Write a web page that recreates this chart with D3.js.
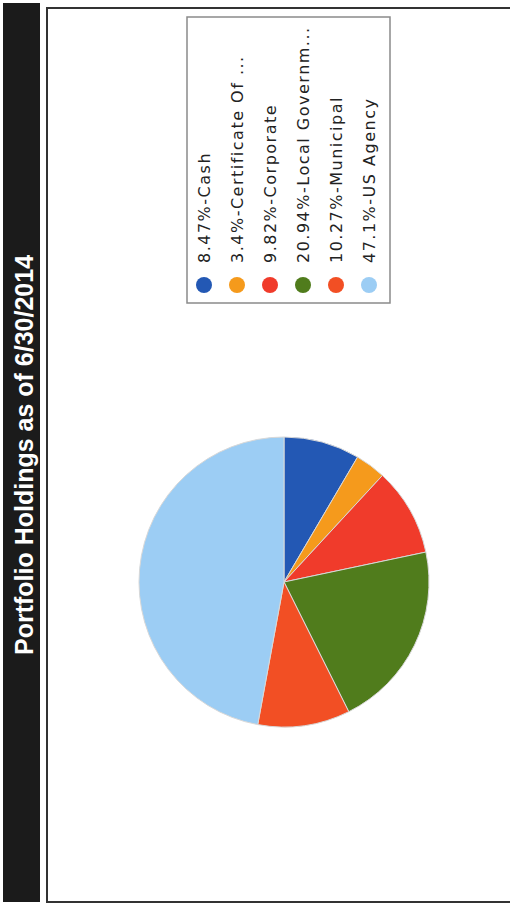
<!DOCTYPE html>
<html>
<head>
<meta charset="utf-8">
<script src="https://cdn.jsdelivr.net/npm/d3@7"></script>
<style>
  body { margin: 0; background: #fff; }
</style>
</head>
<body>
<script>
var width = 510,
    height = 909;

var categories = ['Cash', 'Certificate Of ...', 'Corporate', 'Local Governm...', 'Municipal', 'US Agency'];
var percents = [8.47, 3.4, 9.82, 20.94, 10.27, 47.1];
var colors = ['#2358b4', '#f59a1c', '#f03b2b', '#507c1c', '#f24f24', '#9ccdf4'];
var title = 'Portfolio Holdings as of 6/30/2014';

var svg = d3.select('body')
    .append('svg')
    .attr('width', width)
    .attr('height', height);

// black title bar on the left
svg.append('rect')
    .attr('x', 3).attr('y', 3)
    .attr('width', 37).attr('height', 899)
    .attr('fill', '#1b1b1b');

svg.append('text')
    .attr('transform', 'translate(33,455) rotate(-90)')
    .attr('text-anchor', 'middle')
    .attr('font-family', 'Liberation Sans, Arial, sans-serif')
    .attr('font-weight', 'bold')
    .attr('font-size', 25)
    .attr('fill', '#fff')
    .text(title);

// outer frame
svg.append('rect')
    .attr('x', 47).attr('y', 8)
    .attr('width', 470).attr('height', 894)
    .attr('fill', 'none')
    .attr('stroke', '#333')
    .attr('stroke-width', 2);

// pie, drawn already turned so the first slice starts at the top
var cx = 284, cy = 582, r = 145;

var pie = d3.pie().sort(null).value(function(d) { return d; });
var arc = d3.arc().innerRadius(0).outerRadius(r);

svg.append('g')
    .attr('transform', 'translate(' + cx + ',' + cy + ')')
    .selectAll('path')
    .data(pie(percents))
    .enter()
    .append('path')
    .attr('d', arc)
    .attr('fill', function(d, i) { return colors[i]; })
    .attr('stroke', '#d8d8d8')
    .attr('stroke-width', 1);

// legend
var legend = svg.append('g');

legend.append('rect')
    .attr('x', 187).attr('y', 17)
    .attr('width', 203).attr('height', 286)
    .attr('fill', '#fff')
    .attr('stroke', '#8a8a8a')
    .attr('stroke-width', 1.5);

var lx = d3.scaleLinear().domain([0, categories.length - 1]).range([204, 369]);

var items = legend.selectAll('g.item')
    .data(categories)
    .enter()
    .append('g')
    .attr('class', 'item');

items.append('circle')
    .attr('cx', function(d, i) { return lx(i); })
    .attr('cy', 285)
    .attr('r', 8)
    .attr('fill', function(d, i) { return colors[i]; });

items.append('text')
    .attr('transform', function(d, i) { return 'translate(' + (lx(i) + 6) + ',263) rotate(-90)'; })
    .attr('font-family', 'DejaVu Sans, Verdana, sans-serif')
    .attr('font-size', 16)
    .attr('letter-spacing', 1.5)
    .attr('fill', '#222')
    .text(function(d, i) { return percents[i] + '%-' + d; });
</script>
</body>
</html>
